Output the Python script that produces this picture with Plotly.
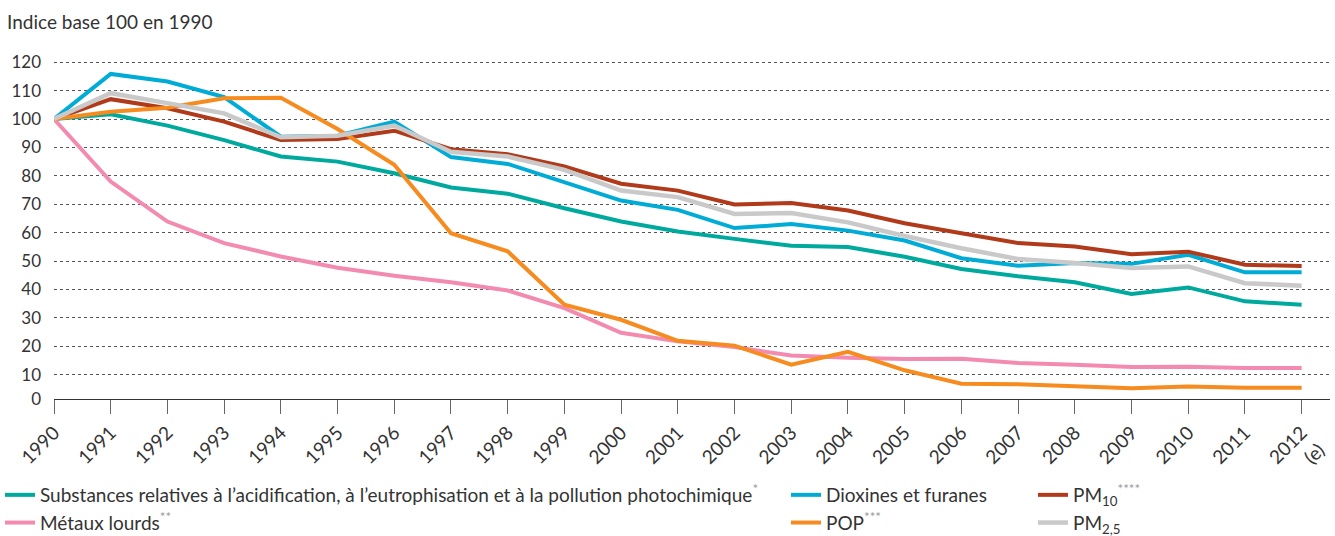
import plotly.graph_objects as go

years = list(range(1990, 2013))
year_labels = [str(y) for y in range(1990, 2012)] + ["2012<br>(e)"]

substances = [100, 101.7, 97.7, 92.6, 86.8, 85.0, 80.9, 75.9, 73.7, 68.6, 63.9, 60.4, 57.8, 55.4, 54.9, 51.5, 47.2, 44.6, 42.5, 38.4, 40.7, 35.8, 34.6]
dioxines = [100, 115.9, 113.2, 107.7, 93.8, 94.1, 99.1, 86.6, 84.2, 77.6, 71.3, 68.0, 61.6, 63.0, 60.7, 57.2, 51.0, 48.3, 49.3, 49.0, 52.2, 46.0, 46.0]
pm10 = [100, 107.0, 103.8, 99.1, 92.6, 93.0, 95.9, 89.4, 87.6, 83.3, 77.2, 74.8, 69.9, 70.4, 67.8, 63.3, 59.8, 56.3, 55.1, 52.4, 53.3, 48.7, 48.2]
metaux = [100, 78.0, 63.9, 56.3, 51.6, 47.6, 44.8, 42.5, 39.6, 33.4, 24.7, 21.7, 19.7, 16.7, 15.9, 15.5, 15.6, 14.1, 13.5, 12.7, 12.8, 12.3, 12.3]
pop = [100, 102.6, 104.0, 107.3, 107.5, 96.5, 83.9, 59.8, 53.4, 34.6, 29.3, 21.9, 20.2, 13.5, 18.0, 11.5, 6.8, 6.6, 5.9, 5.2, 5.8, 5.4, 5.4]
pm25 = [100, 109.1, 105.6, 102.0, 93.6, 94.1, 97.7, 88.5, 86.8, 82.1, 74.8, 72.5, 66.6, 66.9, 63.6, 58.8, 54.5, 50.7, 49.3, 47.5, 48.1, 42.2, 41.3]

y_tickvals = [1.4, 10, 20, 30, 40, 50, 60, 70, 80, 90, 100, 110, 120]
y_ticktext = ["0", "10", "20", "30", "40", "50", "60", "70", "80", "90", "100", "110", "120"]

AST = '<span style="color:#9a9a9a">{}</span>'
series = [
    ("Substances relatives à l’acidification, à l’eutrophisation et à la pollution photochimique<sup>" + AST.format("*") + "</sup>",
     substances, "#00A99D", "legend", 4),
    ("Dioxines et furanes", dioxines, "#00ACD6", "legend2", 4),
    ("PM<sub>10</sub><sup>" + AST.format("****") + "</sup>", pm10, "#B03A1A", "legend3", 4),
    ("Métaux lourds<sup>" + AST.format("**") + "</sup>", metaux, "#F38BB0", "legend", 4),
    ("POP<sup>" + AST.format("***") + "</sup>", pop, "#F68B1F", "legend2", 4),
    ("PM<sub>2,5</sub>", pm25, "#C9C9C9", "legend3", 4.5),
]

fig = go.Figure()
for i, (name, vals, color, leg, w) in enumerate(series):
    fig.add_trace(go.Scatter(
        x=years, y=vals, mode="lines", name=name,
        line=dict(color=color, width=w),
        legend=leg, legendgroup=f"g{i}",
        hoverinfo="skip",
    ))

FONT = "Lato, 'Open Sans', sans-serif"
TXT = "#333333"
LEG_TOP = 1 - 476 / 536

leg_common = dict(
    orientation="v", xref="container", yref="container",
    yanchor="top", xanchor="left",
    font=dict(family=FONT, size=19, color=TXT),
    bgcolor="rgba(0,0,0,0)", borderwidth=0,
    tracegroupgap=0, itemwidth=30,
)

fig.update_layout(
    width=1335, height=536,
    margin=dict(l=54, r=5, t=58, b=137, autoexpand=False),
    paper_bgcolor="white", plot_bgcolor="white",
    font=dict(family=FONT, size=17, color=TXT),
    showlegend=True,
    title=dict(
        text="Indice base 100 en 1990", xref="container", yref="container",
        x=7 / 1335, y=1 - 22 / 536, xanchor="left", yanchor="middle",
        font=dict(family=FONT, size=19, color=TXT),
    ),
    legend=dict(x=0.0, y=LEG_TOP, **leg_common),
    legend2=dict(x=786 / 1335, y=LEG_TOP, **leg_common),
    legend3=dict(x=1033 / 1335, y=LEG_TOP, **leg_common),
    xaxis=dict(
        range=[1990, 2012.5],
        tickmode="array", tickvals=years, ticktext=year_labels,
        tickangle=-45, ticks="outside", ticklen=14, tickwidth=1, tickcolor="#666666",
        showline=True, linecolor="#333333", linewidth=1.2,
        showgrid=False, zeroline=False,
        tickfont=dict(family=FONT, size=19, color=TXT),
    ),
    yaxis=dict(
        range=[1.4, 121.5],
        tickmode="array", tickvals=y_tickvals, ticktext=y_ticktext,
        showgrid=True, gridcolor="#555555", griddash="dot", gridwidth=1,
        zeroline=False, showline=False, ticks="",
        tickfont=dict(family=FONT, size=17, color=TXT),
        ticklabelstandoff=12,
    ),
)

fig.write_html("out.html", config={"displayModeBar": False})

# remove the default 8px page margin so the figure sits at the window origin
with open("out.html", "r", encoding="utf-8") as f:
    html = f.read()
html = html.replace("<body>", '<body style="margin:0;padding:0;overflow:hidden">', 1)
with open("out.html", "w", encoding="utf-8") as f:
    f.write(html)
